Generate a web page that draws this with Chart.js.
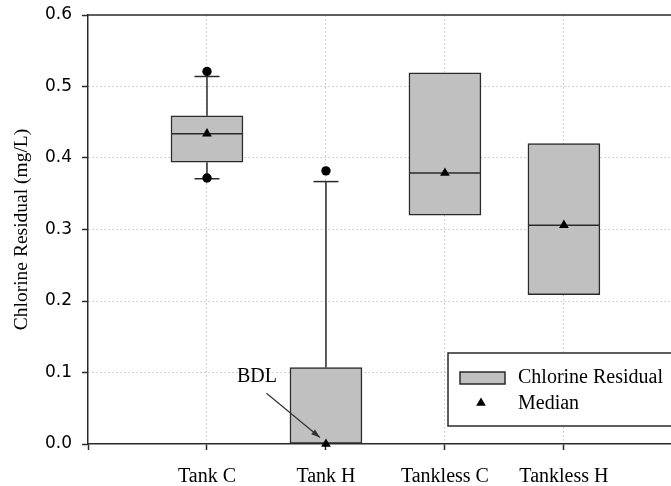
<!DOCTYPE html>
<html>
<head>
<meta charset="utf-8">
<script src="https://cdn.jsdelivr.net/npm/chart.js@4.4.0/dist/chart.umd.min.js"></script>
<style>
  html, body { margin: 0; padding: 0; background: #fff; overflow: hidden; }
  #wrap { width: 671px; height: 486px; }
</style>
</head>
<body>
<div id="wrap"><canvas id="chart" width="671" height="486"></canvas></div>
<script>
// data
const categories = ["Tank C", "Tank H", "Tankless C", "Tankless H"];
const boxLow = [0.394, 0.0, 0.320, 0.209];
const boxHigh = [0.459, 0.107, 0.519, 0.420];
const medians = [0.434, 0.0, 0.379, 0.306];
const whiskerLow = [0.371, null, null, null];
const whiskerHigh = [0.514, 0.367, null, null];
const outlierCat = [0, 0, 1];           // index into categories
const outlierVals = [0.521, 0.372, 0.382];
const yTicks = [0, 0.1, 0.2, 0.3, 0.4, 0.5, 0.6];
const bdlNote = { text: "BDL", cat: 1, value: 0.0 };

const SERIF = "'Liberation Serif', 'Times New Roman', serif";
const SANS = "'DejaVu Sans', Verdana, sans-serif";
const BOX_W = 72;
const CAP_W = 25;
const INK = "#2a2a2a";
const BOX_FILL = "#c0c0c0";
const GRID = "#c4c4c4";

// category i sits at x = i + 1 on a linear axis that starts at 0
const xOf = i => i + 1;

const boxData = categories.map((c, i) => ({ x: xOf(i), y: [boxLow[i], boxHigh[i]] }));
const medianData = categories.map((c, i) => ({ x: xOf(i), y: medians[i] }));
const outlierData = outlierVals.map((v, k) => ({ x: xOf(outlierCat[k]), y: v }));

function line(ctx, x1, y1, x2, y2) {
  ctx.beginPath();
  ctx.moveTo(x1, y1);
  ctx.lineTo(x2, y2);
  ctx.stroke();
}

// whiskers, caps and median lines, drawn right after the boxes
const boxExtras = {
  id: "boxExtras",
  afterDatasetDraw(chart, args) {
    if (args.meta.type !== "bar") return;
    const ctx = chart.ctx, xs = chart.scales.x, ys = chart.scales.y;
    ctx.save();
    ctx.strokeStyle = INK;
    ctx.lineWidth = 1.5;
    categories.forEach((c, i) => {
      const px = xs.getPixelForValue(xOf(i));
      if (medians[i] > 0) {
        const my = ys.getPixelForValue(medians[i]);
        line(ctx, px - BOX_W / 2 + 1, my, px + BOX_W / 2 - 1, my);
      }
      if (whiskerHigh[i] != null) {
        const top = ys.getPixelForValue(whiskerHigh[i]);
        line(ctx, px, ys.getPixelForValue(boxHigh[i]), px, top);
        line(ctx, px - CAP_W / 2, top, px + CAP_W / 2, top);
      }
      if (whiskerLow[i] != null) {
        const bot = ys.getPixelForValue(whiskerLow[i]);
        line(ctx, px, ys.getPixelForValue(boxLow[i]), px, bot);
        line(ctx, px - CAP_W / 2, bot, px + CAP_W / 2, bot);
      }
    });
    ctx.restore();
  },
  afterDraw(chart) {
    const ctx = chart.ctx, xs = chart.scales.x, ys = chart.scales.y;
    const area = chart.chartArea;
    ctx.save();

    // top frame line
    ctx.strokeStyle = INK;
    ctx.lineWidth = 1.5;
    line(ctx, area.left, area.top, chart.width, area.top);

    // BDL note with arrow pointing at the Tank H median
    const tx = xs.getPixelForValue(xOf(bdlNote.cat) - 0.58);
    const ty = ys.getPixelForValue(bdlNote.value + 0.094);
    ctx.fillStyle = "#000";
    ctx.font = "20px " + SERIF;
    ctx.textAlign = "center";
    ctx.textBaseline = "middle";
    ctx.fillText(bdlNote.text, tx, ty);
    const ax1 = xs.getPixelForValue(xOf(bdlNote.cat) - 0.5);
    const ay1 = ys.getPixelForValue(bdlNote.value + 0.071);
    const ax2 = xs.getPixelForValue(xOf(bdlNote.cat) - 0.05);
    const ay2 = ys.getPixelForValue(bdlNote.value + 0.009);
    ctx.strokeStyle = "#333";
    ctx.lineWidth = 1.2;
    line(ctx, ax1, ay1, ax2, ay2);
    const ang = Math.atan2(ay2 - ay1, ax2 - ax1);
    ctx.fillStyle = "#333";
    ctx.beginPath();
    ctx.moveTo(ax2, ay2);
    ctx.lineTo(ax2 - 9 * Math.cos(ang) + 3 * Math.sin(ang), ay2 - 9 * Math.sin(ang) - 3 * Math.cos(ang));
    ctx.lineTo(ax2 - 9 * Math.cos(ang) - 3 * Math.sin(ang), ay2 - 9 * Math.sin(ang) + 3 * Math.cos(ang));
    ctx.closePath();
    ctx.fill();

    // legend box inside the plot, bottom right
    const lx = 448, ly = 353, lh = 73;
    ctx.fillStyle = "#fff";
    ctx.fillRect(lx, ly, chart.width - lx + 10, lh);
    ctx.strokeStyle = INK;
    ctx.lineWidth = 1.5;
    ctx.strokeRect(lx, ly, chart.width - lx + 10, lh);

    ctx.fillStyle = BOX_FILL;
    ctx.fillRect(lx + 12, ly + 19, 45, 12);
    ctx.strokeRect(lx + 12, ly + 19, 45, 12);
    ctx.fillStyle = "#000";
    Chart.helpers.drawPoint(ctx, { pointStyle: "triangle", radius: 5.6, rotation: 0, borderWidth: 0 }, lx + 33, ly + 50);

    ctx.fillStyle = "#000";
    ctx.font = "20px " + SERIF;
    ctx.textAlign = "left";
    ctx.textBaseline = "middle";
    ctx.fillText("Chlorine Residual", lx + 70, ly + 25);
    ctx.fillText("Median", lx + 70, ly + 51);
    ctx.restore();
  }
};

Chart.defaults.font.family = SERIF;
Chart.defaults.color = "#000";

new Chart(document.getElementById("chart"), {
  type: "bar",
  data: {
    datasets: [
      {
        label: "Median",
        type: "scatter",
        data: medianData,
        pointStyle: "triangle",
        pointRadius: 5.6,
        backgroundColor: "#000",
        borderColor: "#000",
        borderWidth: 0,
        clip: false,
        order: 0
      },
      {
        label: "Outliers",
        type: "scatter",
        data: outlierData,
        pointStyle: "circle",
        pointRadius: 4.7,
        backgroundColor: "#000",
        borderColor: "#000",
        borderWidth: 0,
        clip: false,
        order: 1
      },
      {
        label: "Chlorine Residual",
        data: boxData,
        backgroundColor: BOX_FILL,
        borderColor: INK,
        borderWidth: 1.5,
        borderSkipped: false,
        barThickness: BOX_W,
        order: 2
      }
    ]
  },
  options: {
    responsive: false,
    animation: false,
    events: [],
    layout: { autoPadding: false, padding: { top: 15, right: 0, left: 0, bottom: 0 } },
    plugins: { legend: { display: false }, tooltip: { enabled: false } },
    scales: {
      x: {
        type: "linear",
        min: 0,
        max: 4.9,
        offset: false,
        afterBuildTicks: scale => { scale.ticks = [0, 1, 2, 3, 4].map(v => ({ value: v })); },
        afterFit: scale => { scale.height = 42; scale.paddingLeft = 0; scale.paddingRight = 0; },
        ticks: {
          font: { family: SERIF, size: 20 },
          color: "#000",
          padding: 15,
          autoSkip: false,
          maxRotation: 0,
          callback: v => (v >= 1 && v <= categories.length ? categories[v - 1] : "")
        },
        grid: {
          offset: false,
          color: ctx => (ctx.tick && ctx.tick.value === 0 ? "rgba(0,0,0,0)" : GRID),
          lineWidth: 1,
          tickLength: 6,
          tickColor: INK,
          tickWidth: 1.5
        },
        border: { display: true, color: INK, width: 1.5, dash: [1.5, 2.5] }
      },
      y: {
        min: 0,
        max: 0.6,
        afterBuildTicks: scale => { scale.ticks = yTicks.map(v => ({ value: v })); },
        afterFit: scale => { scale.width = 88; scale.paddingTop = 0; scale.paddingBottom = 0; },
        ticks: {
          font: { family: SANS, size: 17 },
          color: "#000",
          padding: 10,
          callback: v => Number(v).toFixed(1)
        },
        grid: {
          color: ctx => (ctx.tick && (ctx.tick.value === 0 || ctx.tick.value >= 0.6) ? "rgba(0,0,0,0)" : GRID),
          lineWidth: 1,
          tickLength: 6,
          tickColor: INK,
          tickWidth: 1.5
        },
        border: { display: true, color: INK, width: 1.5, dash: [1.5, 2.5] },
        title: {
          display: true,
          text: "Chlorine Residual (mg/L)",
          font: { family: SERIF, size: 19.5 },
          color: "#000",
          padding: { top: 10, bottom: 0 }
        }
      }
    }
  },
  plugins: [boxExtras]
});
</script>
</body>
</html>
